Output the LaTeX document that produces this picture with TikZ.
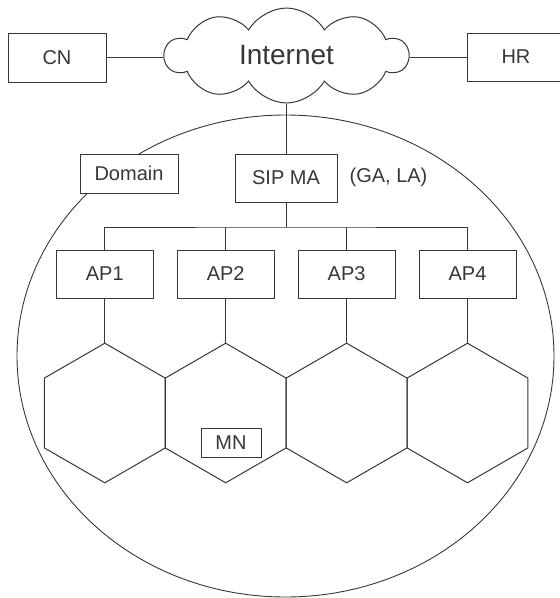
\documentclass[tikz,border=0pt]{standalone}
\usepackage{fontspec}
\setmainfont{Liberation Sans}
\usetikzlibrary{shapes.symbols,shapes.geometric}
\definecolor{ink}{RGB}{55,55,55}
\begin{document}
\begin{tikzpicture}[x=1pt,y=-1pt,
  every node/.style={font=\fontsize{20}{24}\selectfont, text=ink},
  box/.style={draw=ink, line width=1pt, fill=white, inner sep=0pt},
  wire/.style={draw=ink, line width=1pt},
  hexcell/.style={draw=ink, line width=1pt, regular polygon, regular polygon sides=6,
    shape border rotate=30, minimum size=139.6pt, inner sep=0pt, outer sep=0pt},
  netcloud/.style={draw=ink, line width=1pt, fill=white, cloud, cloud puffs=10,
    cloud puff arc=120, aspect=2.56, minimum width=243pt, minimum height=95pt,
    inner sep=0pt, font=\fontsize{28}{32}\selectfont}]
\useasboundingbox (0,0) rectangle (560,598);
\clip (0,0) rectangle (560,598);

% domain boundary
\draw[ink, line width=0.9pt] (285.5,356) ellipse [x radius=268.5pt, y radius=241pt];

% core network
\node[netcloud] (cloud) at (286.5,55.5) {Internet};
\node[box, minimum width=98pt, minimum height=49pt] (cn) at (57,57.5) {CN};
\node[box, minimum width=98pt, minimum height=48pt] (hr) at (516,57) {HR};
\draw[wire] (cn.east) -- (cn.east -| cloud.west);
\draw[wire] (hr.west) -- (hr.west -| cloud.east);

% mobility agent and domain label
\node[box, minimum width=98pt, minimum height=39pt] (domain) at (129,173.5) {Domain};
\node[box, minimum width=102pt, minimum height=48pt] (sipma) at (286,178) {SIP MA};
\node (gala) at (388.5,177) {(GA, LA)};
\draw[wire] (sipma.north) -- (sipma.north |- cloud.south);

% access points, one above each radio cell
\coordinate (bus) at (286,227);
\foreach \i in {1,...,4}{
  \node[box, minimum width=97pt, minimum height=48pt] (ap\i) at ({104.8+120.9*(\i-1)},274) {AP\i};
}
\draw[wire] (sipma.south) -- (sipma.south |- bus);
\draw[wire] (ap1.north) |- (bus) -| (ap4.north);
\draw[wire] (ap2.north) -- (ap2.north |- bus);
\draw[wire] (ap3.north) -- (ap3.north |- bus);

% radio cells
\foreach \i in {1,...,4}{
  \node[hexcell] (hex\i) at ({104.8+120.9*(\i-1)},413) {};
  \draw[wire] (ap\i.south) -- (hex\i.north);
}

% mobile node
\node[box, minimum width=60pt, minimum height=29pt] (mn) at (231,442.5) {MN};
\end{tikzpicture}
\end{document}
